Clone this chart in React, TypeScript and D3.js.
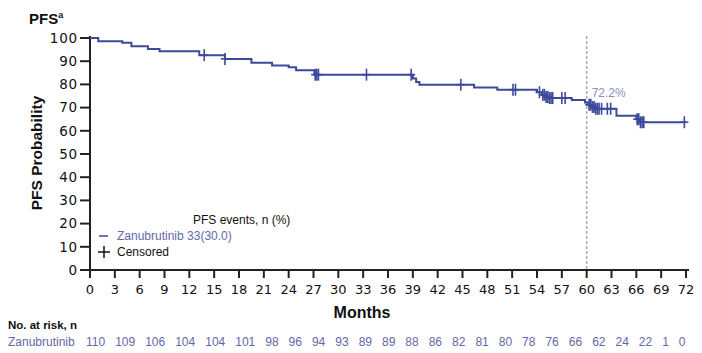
import React from 'react';
import * as d3 from 'd3';

// KM step points: time (months) where survival drops, and the new level (%)
const stepTimes = [0, 1, 3.9, 5, 7, 8.4, 13.2, 16.3, 19.5, 22, 24, 24.9, 27.1, 39.0, 39.4, 39.8, 46.4, 49.2, 54.0, 54.6, 55.0, 55.4, 58.2, 59.8, 60.2, 60.6, 61.0, 63.6, 66.0, 66.4];
const stepSurv = [100, 98.6, 97.9, 96.4, 95.3, 94.3, 92.6, 91.0, 89.3, 88.1, 87.4, 86.1, 84.2, 82.5, 81.0, 79.9, 78.7, 77.7, 76.6, 75.5, 74.6, 74.1, 73.3, 72.2, 71.2, 70.3, 69.5, 66.5, 65.0, 63.7];
const lastTime = 72;

const censorTimes = [13.8, 16.3, 27.2, 27.4, 27.6, 33.4, 38.8, 44.8, 51.1, 51.4, 54.3, 54.7, 54.9, 55.1, 55.3, 55.5, 55.7, 55.9, 57.0, 57.4, 60.3, 60.5, 60.7, 60.9, 61.1, 61.3, 61.5, 61.8, 62.5, 62.9, 66.1, 66.3, 66.5, 66.7, 66.9, 71.8];

const monthTicks = [0, 3, 6, 9, 12, 15, 18, 21, 24, 27, 30, 33, 36, 39, 42, 45, 48, 51, 54, 57, 60, 63, 66, 69, 72];
const probTicks = [0, 10, 20, 30, 40, 50, 60, 70, 80, 90, 100];
const atRisk = [110, 109, 106, 104, 104, 101, 98, 96, 94, 93, 89, 89, 88, 86, 82, 81, 80, 78, 76, 66, 62, 24, 22, 1, 0];

const landmarkMonth = 60;
const landmarkLabel = '72.2%';

const lineColor = '#3d4a9b';
const softBlue = '#6468a8';
const axisColor = '#222';

export default function App() {
  const x = d3.scaleLinear().domain([0, 72]).range([90, 686]);
  const y = d3.scaleLinear().domain([0, 100]).range([270, 38]);

  const pts: [number, number][] = stepTimes.map((t, i) => [t, stepSurv[i]]);
  pts.push([lastTime, stepSurv[stepSurv.length - 1]]);
  const line = d3
    .line<[number, number]>()
    .x(d => x(d[0]))
    .y(d => y(d[1]))
    .curve(d3.curveStepAfter);

  const survAt = (t: number) => {
    let s = stepSurv[0];
    stepTimes.forEach((st, i) => {
      if (st <= t) s = stepSurv[i];
    });
    return s;
  };

  const sans = 'Liberation Sans, Arial, sans-serif';
  const tickFont = 'DejaVu Sans, sans-serif';

  return (
    <svg width={702} height={353} style={{ position: 'absolute', left: 0, top: 0, background: '#fff' }}>
      {/* title */}
      <text x={29} y={24} fontFamily={sans} fontWeight="bold" fontSize={15} fill="#111">
        PFS<tspan fontSize={9} dy={-6}>a</tspan>
      </text>

      {/* y axis */}
      <line x1={x(0)} x2={x(0)} y1={36} y2={271} stroke={axisColor} strokeWidth={2} />
      {probTicks.map(v => (
        <g key={v}>
          <line x1={x(0) - 10} x2={x(0)} y1={y(v)} y2={y(v)} stroke={axisColor} strokeWidth={2} />
          <text x={78} y={y(v)} dy="0.36em" textAnchor="end" fontFamily={tickFont} fontSize={13.5} letterSpacing={0.8} fill="#111">
            {v}
          </text>
        </g>
      ))}
      <text transform={`translate(42,153) rotate(-90)`} textAnchor="middle" fontFamily={sans} fontWeight="bold" fontSize={15.5} fill="#111">
        PFS Probability
      </text>

      {/* x axis */}
      <line x1={x(0) - 1} x2={x(72) + 3} y1={270} y2={270} stroke={axisColor} strokeWidth={2} />
      {monthTicks.map(m => (
        <g key={m}>
          <line x1={x(m)} x2={x(m)} y1={270} y2={278} stroke={axisColor} strokeWidth={2} />
          <text x={x(m)} y={294} textAnchor="middle" fontFamily={tickFont} fontSize={13} fill="#111">
            {m}
          </text>
        </g>
      ))}
      <text x={362} y={318} textAnchor="middle" fontFamily={sans} fontWeight="bold" fontSize={16} fill="#111">
        Months
      </text>

      {/* landmark */}
      <line x1={x(landmarkMonth)} x2={x(landmarkMonth)} y1={36} y2={270} stroke="#aaa" strokeWidth={1.5} strokeDasharray="3,2" />
      <text x={x(landmarkMonth) + 5} y={97} fontFamily={sans} fontSize={12} fill="#8a8fc0">
        {landmarkLabel}
      </text>

      {/* KM curve */}
      <path d={line(pts) || ''} fill="none" stroke={lineColor} strokeWidth={2} />
      {censorTimes.map((t, i) => {
        const cx = x(t);
        const cy = y(survAt(t));
        return (
          <g key={i} stroke={lineColor} strokeWidth={1.6}>
            <line x1={cx} x2={cx} y1={cy - 6} y2={cy + 6} />
            <line x1={cx - 4} x2={cx + 4} y1={cy} y2={cy} />
          </g>
        );
      })}

      {/* legend */}
      <text x={193} y={224} fontFamily={sans} fontSize={12} fill="#111">
        PFS events, n (%)
      </text>
      <line x1={99} x2={108} y1={236} y2={236} stroke={lineColor} strokeWidth={1.5} />
      <text x={117} y={240} fontFamily={sans} fontSize={12} fill={softBlue}>
        Zanubrutinib 33(30.0)
      </text>
      <g stroke="#111" strokeWidth={1.5}>
        <line x1={104} x2={104} y1={246} y2={258} />
        <line x1={98} x2={110} y1={252} y2={252} />
      </g>
      <text x={117} y={256} fontFamily={sans} fontSize={12} fill="#111">
        Censored
      </text>

      {/* number at risk */}
      <text x={8} y={329} fontFamily={sans} fontWeight="bold" fontSize={11.5} fill="#111">
        No. at risk, n
      </text>
      <text x={8} y={346} fontFamily={sans} fontSize={12} fill={softBlue}>
        Zanubrutinib
      </text>
      <text x={86} y={346} fontFamily={sans} fontSize={12} fill={softBlue} style={{ whiteSpace: 'pre' }}>
        {atRisk.join('   ')}
      </text>
    </svg>
  );
}
